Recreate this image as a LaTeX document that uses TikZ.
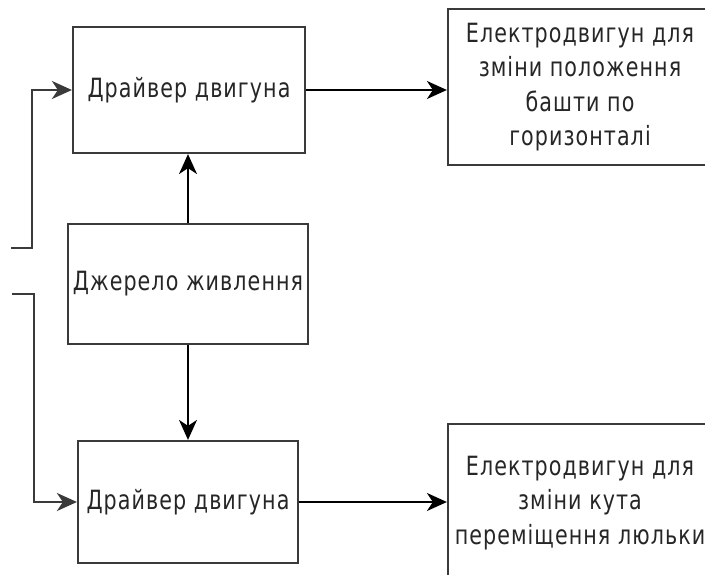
\documentclass[tikz,border=0pt]{standalone}
\usepackage{fontspec}
\usetikzlibrary{arrows.meta}
\newfontfamily\gost{DejaVu Sans}[FakeStretch=0.78, LetterSpace=4]
\definecolor{boxline}{HTML}{3A3A3A}
\begin{document}
\begin{tikzpicture}[x=1pt,y=-1pt,
  blk/.style={draw=boxline, line width=2.2pt, fill=white, rectangle, inner sep=0pt,
    align=center, font=\gost\fontsize{26.5}{34.5}\selectfont, text=black!85},
  tipx/.tip={Stealth[length=20pt,width=18pt,inset=6pt]},
  arr/.style={line width=1.8pt, -tipx},
  feed/.style={draw=boxline, line width=2.2pt, -tipx}]
\clip (0,0) rectangle (705,575);
\fill[white] (0,0) rectangle (705,575);
\node[blk, minimum width=232pt, minimum height=126pt] (drv1) at (189,90) {Драйвер двигуна};
\node[blk, minimum width=264pt, minimum height=156pt] (mot1) at (580,87) {Електродвигун для\\зміни положення\\башти по\\горизонталі};
\node[blk, minimum width=240pt, minimum height=120pt] (pw) at (188,284) {Джерело живлення};
\node[blk, minimum width=220pt, minimum height=122pt] (drv2) at (188,502) {Драйвер двигуна};
\node[blk, minimum width=264pt, minimum height=158pt] (mot2) at (580,503) {Електродвигун для\\зміни кута\\переміщення люльки};
\coordinate (in1) at (11,248);
\coordinate (c1) at (32,248);
\coordinate (in2) at (12,294);
\coordinate (c2) at (34,294);
\draw[arr] (pw.north) -- (pw.north |- drv1.south);
\draw[arr] (pw.south) -- (pw.south |- drv2.north);
\draw[arr] (drv1.east) -- (drv1.east -| mot1.west);
\draw[arr] (drv2.east) -- (drv2.east -| mot2.west);
\draw[feed] (in1) -- (c1) |- (drv1.west);
\draw[feed] (in2) -- (c2) |- (drv2.west);
\end{tikzpicture}
\end{document}
